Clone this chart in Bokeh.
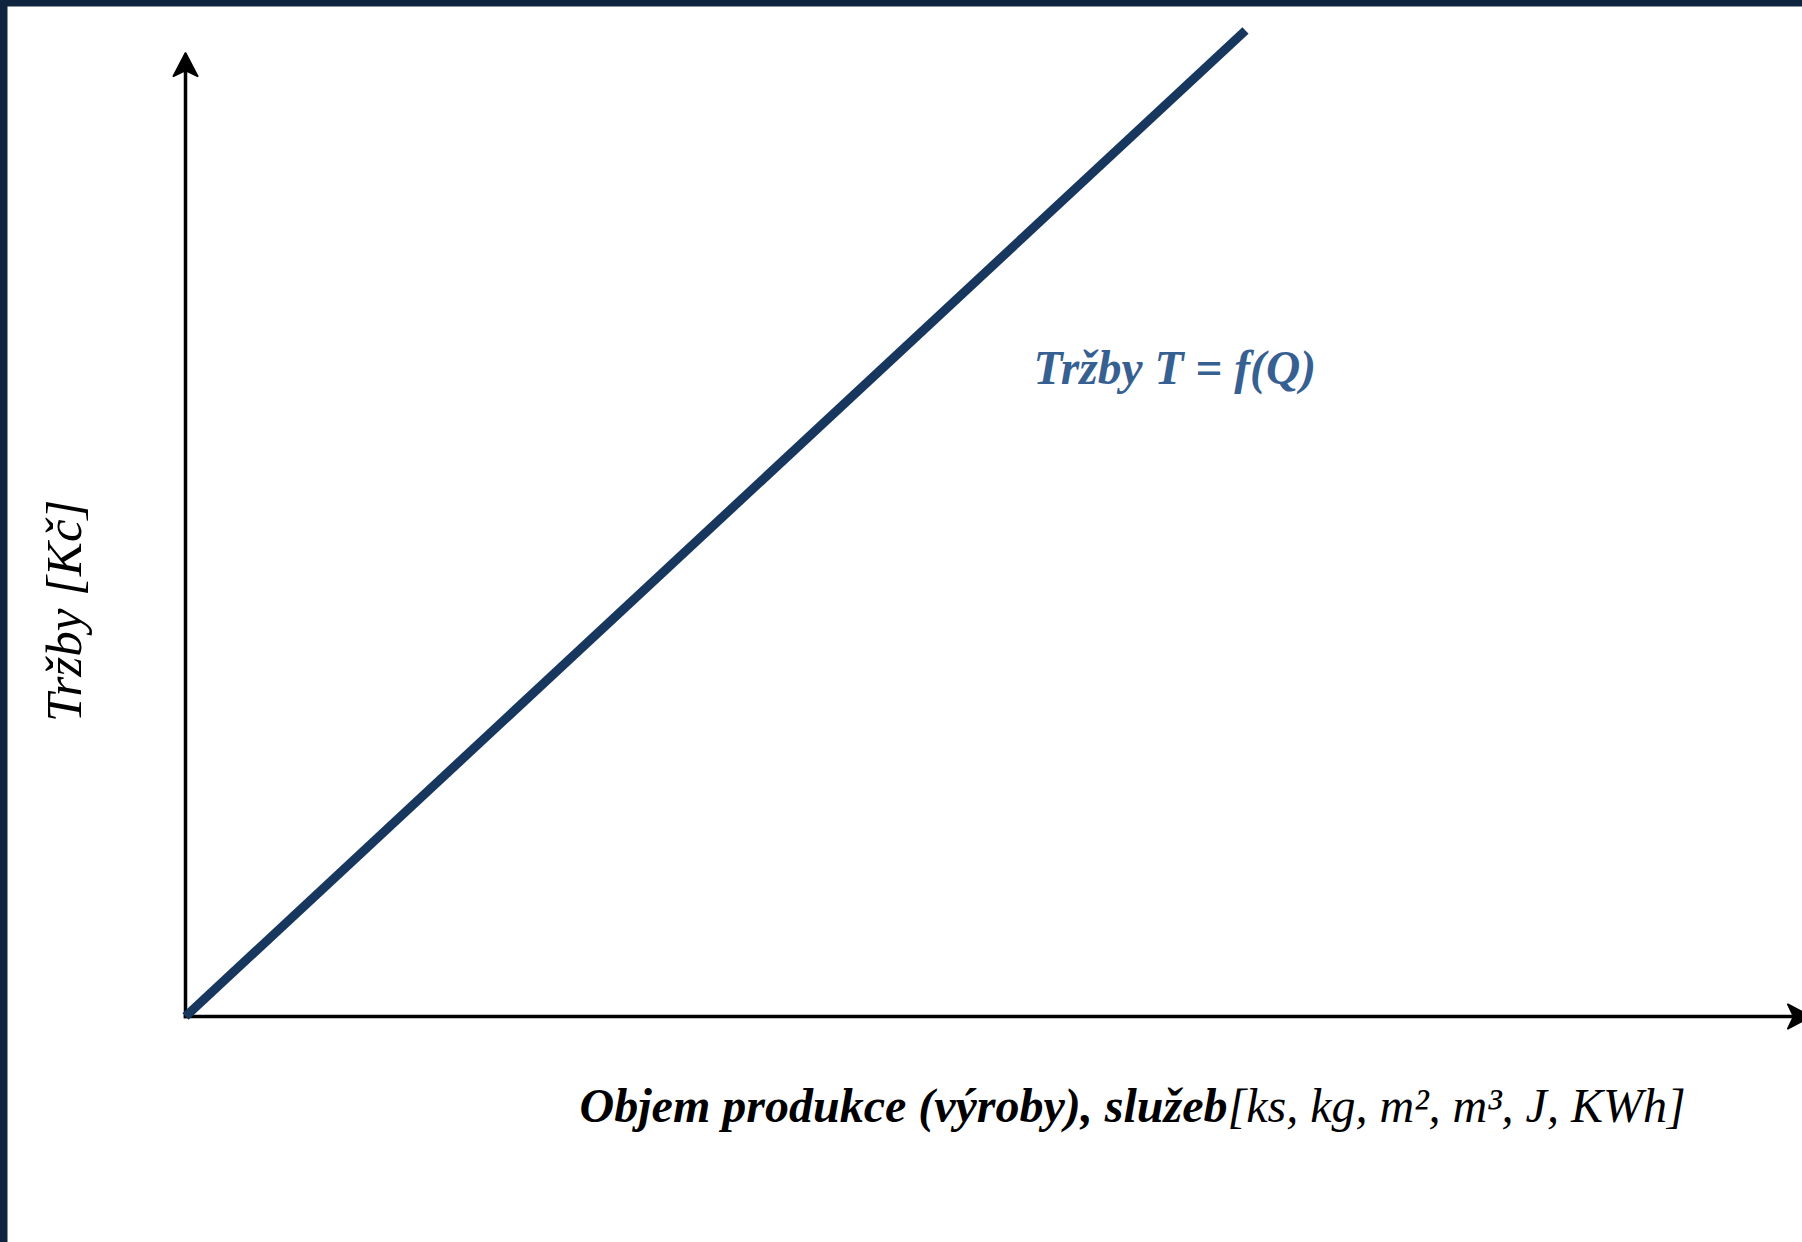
import math
from bokeh.plotting import figure
from bokeh.models import Range1d, Label, GlobalInlineStyleSheet
from bokeh.embed import file_html
from bokeh.resources import INLINE

# ---- data -------------------------------------------------------------
Q = [0, 10]          # volume of production (abstract units)
T = [0, 10]          # revenue T = f(Q)
curve_label = "Tržby T = f(Q)"
x_label_bold = "Objem produkce (výroby), služeb"
x_label_units = "[ks, kg, m², m³, J, KWh]"
y_label = "Tržby  [Kč]"

# ---- layout (pixels, relative to the figure's top-left corner) --------
W, H = 1795, 1236
OX, OY = 178, 1010          # where the origin sits
PX_X = 106.0                # pixels per unit along Q
PX_Y = 98.6                 # pixels per unit along T


def dx(px):
    return (px - OX) / PX_X


def dy(py):
    return (OY - py) / PX_Y


p = figure(width=W, height=H,
           x_range=Range1d(dx(0), dx(W)), y_range=Range1d(dy(H), dy(0)),
           output_backend="svg", toolbar_location=None,
           x_axis_type=None, y_axis_type=None, min_border=0)
p.grid.visible = False
p.outline_line_color = None
p.background_fill_color = "white"
p.border_fill_color = "white"
p.stylesheets = [GlobalInlineStyleSheet(css=(
    "html, body { margin:0; padding:0; background:#0F243E; overflow:hidden; }"
    " body { padding: 6px 0 0 7px; }"))]

# ---- axes with stealth arrow heads -------------------------------------
XTIP = W + 9      # x-axis tip (slightly beyond the right edge)
YTIP = 46         # y-axis tip
HL, HW, HN = 24, 12.5, 18   # head length, half width, notch distance from tip


def head(tx, ty, direction):
    if direction == "up":
        pts = [(tx, ty), (tx + HW, ty + HL), (tx, ty + HN), (tx - HW, ty + HL)]
    else:
        pts = [(tx, ty), (tx - HL, ty - HW), (tx - HN, ty), (tx - HL, ty + HW)]
    return [dx(a) for a, _ in pts], [dy(b) for _, b in pts]


p.segment(x0=[0, 0], y0=[0, 0], x1=[dx(XTIP - HN), 0], y1=[0, dy(YTIP + HN)],
          line_width=3.5, line_color="black", line_cap="square")
hx1, hy1 = head(XTIP, OY, "right")
hx2, hy2 = head(OX, YTIP, "up")
p.patches([hx1, hx2], [hy1, hy2], fill_color="black", line_color="black", line_width=1.5)

# ---- revenue line --------------------------------------------------------
p.line(Q, T, line_width=9, line_color="#17375E", line_cap="butt")

# ---- labels --------------------------------------------------------------
p.add_layout(Label(x=dx(1026), y=dy(361), text=curve_label,
                   text_font="Liberation Serif", text_font_style="bold italic",
                   text_font_size="47.5px", text_color="#376092",
                   text_align="left", text_baseline="alphabetic"))

p.add_layout(Label(x=dx(56), y=dy(598), text=y_label, angle=math.pi / 2,
                   text_font="Liberation Serif", text_font_style="italic",
                   text_font_size="51px", text_color="black",
                   text_align="center", text_baseline="alphabetic"))

XB = 1220
p.add_layout(Label(x=dx(XB), y=dy(1099), text=x_label_bold,
                   text_font="Liberation Serif", text_font_style="bold italic",
                   text_font_size="48px", text_color="black",
                   text_align="right", text_baseline="alphabetic"))
p.add_layout(Label(x=dx(XB), y=dy(1099), text=x_label_units,
                   text_font="Liberation Serif", text_font_style="italic",
                   text_font_size="48px", text_color="black",
                   text_align="left", text_baseline="alphabetic"))

open("out.html", "w").write(file_html(p, INLINE))
